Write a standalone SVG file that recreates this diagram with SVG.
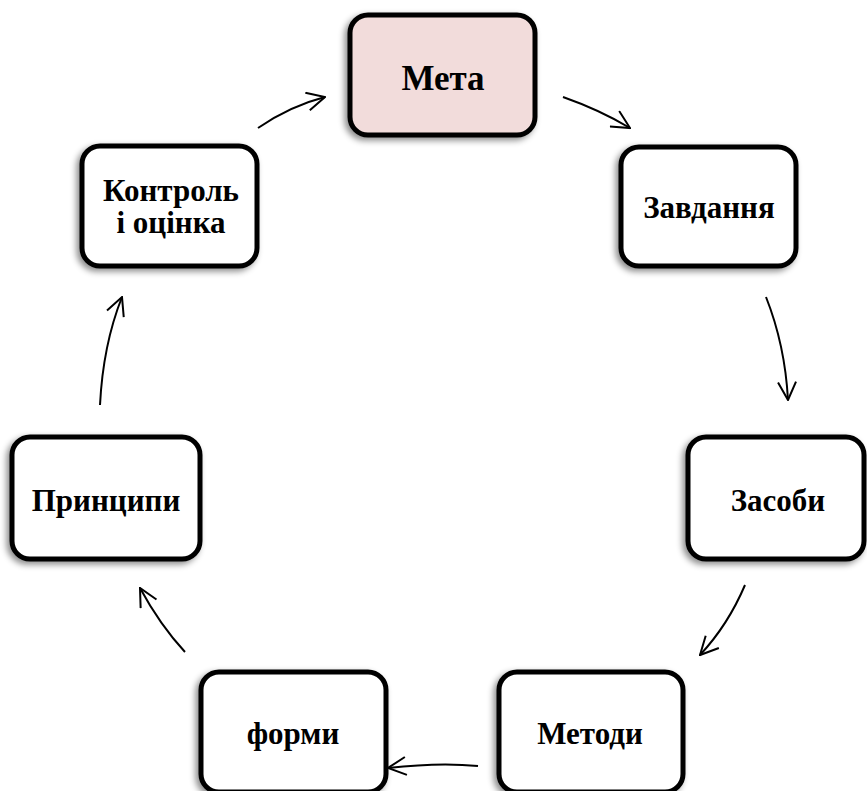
<svg xmlns="http://www.w3.org/2000/svg" width="867" height="791" viewBox="0 0 867 791">
<defs>
<filter id="sh" x="-20%" y="-20%" width="140%" height="140%">
<feDropShadow dx="-3" dy="3" stdDeviation="3" flood-color="#000" flood-opacity="0.45"/>
</filter>
<marker id="ah2" viewBox="0 0 20 20" refX="19" refY="10" markerWidth="20" markerHeight="20" markerUnits="userSpaceOnUse" orient="auto">
<path d="M1,1 L19,10 L1,19" fill="none" stroke="#000" stroke-width="2"/>
</marker>
</defs>
<style>
.box{fill:#fff;stroke:#000;stroke-width:5;filter:url(#sh)}
.t{font-family:"Liberation Serif","Times New Roman",serif;font-weight:bold;font-size:31px;text-anchor:middle;fill:#000}
.c{fill:none;stroke:#000;stroke-width:2;marker-end:url(#ah2)}
</style>
<rect width="867" height="791" fill="#fff"/>
<g id="meta">
<rect class="box" x="350" y="15" width="185" height="120" rx="18" style="fill:#F2DCDB"/>
<text class="t" x="443" y="90" style="font-size:35px">Мета</text>
</g>
<g id="zavdannia">
<rect class="box" x="621" y="147" width="175" height="119" rx="18"/>
<text class="t" x="709" y="218">Завдання</text>
</g>
<g id="zasoby">
<rect class="box" x="688" y="437" width="176" height="122" rx="18"/>
<text class="t" x="778" y="511">Засоби</text>
</g>
<g id="metody">
<rect class="box" x="499" y="672" width="184" height="120" rx="18"/>
<text class="t" x="590" y="744">Методи</text>
</g>
<g id="formy">
<rect class="box" x="201" y="672" width="185" height="120" rx="18"/>
<text class="t" x="293" y="744">форми</text>
</g>
<g id="pryntsypy">
<rect class="box" x="12" y="437" width="188" height="122" rx="18"/>
<text class="t" x="106" y="511">Принципи</text>
</g>
<g id="kontrol">
<rect class="box" x="82" y="146" width="175" height="120" rx="18"/>
<text class="t" x="171" y="201">Контроль</text>
<text class="t" x="171" y="233">і оцінка</text>
</g>
<g id="connectors">
<path class="c" d="M563,97 Q600,110 630,128"/>
<path class="c" d="M766,297 Q785,345 788,400"/>
<path class="c" d="M745,585 Q728,625 700,655"/>
<path class="c" d="M478,766 Q440,762 388,768"/>
<path class="c" d="M185,652 Q160,625 140,588"/>
<path class="c" d="M100,405 Q103,345 122,297"/>
<path class="c" d="M258,128 Q290,106 325,97"/>
</g>
</svg>
